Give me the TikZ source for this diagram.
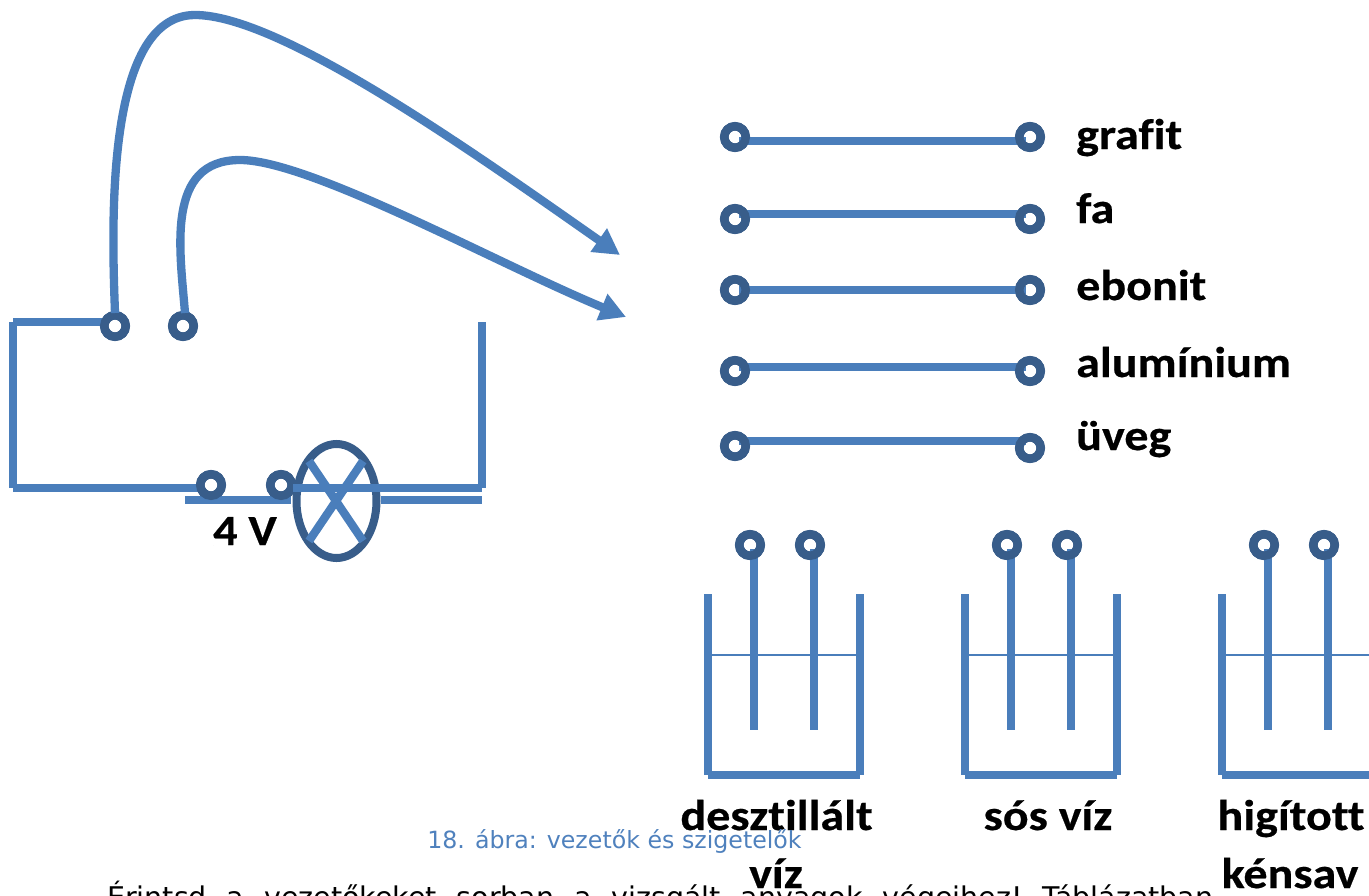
\documentclass[tikz,border=0pt]{standalone}
\usepackage{fontspec}
\setmainfont[FakeStretch=1.118,Ligatures=NoCommon,BoldFeatures={FakeBold=0.5}]{Carlito}
\newfontfamily\capfont{DejaVu Sans}
\usetikzlibrary{arrows.meta,shapes.geometric}
\definecolor{wirec}{HTML}{4A7EBB}
\definecolor{ringc}{HTML}{385D8A}
\definecolor{capc}{HTML}{4F81BD}
\tikzset{
 wire/.style={draw=wirec,line width=8.3pt},
 thin wire/.style={draw=wirec,line width=2pt},
 ring/.style={circle,draw=ringc,line width=8.5pt,minimum size=21.5pt,inner sep=0pt,outer sep=0pt},
 lamp/.style={ellipse,draw=ringc,line width=8pt,minimum width=80pt,minimum height=114pt,inner sep=0pt},
 lbl/.style={font=\bfseries\fontsize{43pt}{43pt}\selectfont,text=black,inner sep=0pt,anchor=base},
 curve/.style={draw=wirec,line width=8.3pt,-{Triangle[length=26pt,width=27pt,fill=wirec]}},
}
\begin{document}
\begin{tikzpicture}[x=1pt,y=-1pt]
\useasboundingbox (0,0) rectangle (1369,895);
\clip (0,0) rectangle (1369,895);
% circuit
\coordinate (cTL) at (13,322);
\coordinate (cBL) at (13,488);
\coordinate (cTR) at (482,322);
\coordinate (cBR) at (482,488);
\coordinate (cBR2) at (482,500);
\coordinate (cM) at (185,500);
\coordinate (tip1) at (620,255);
\coordinate (tip2) at (626,317);
\node[lamp] (L) at (336.5,501) {};
\path (115,326) node[ring] (a) {} (183,326) node[ring] (b) {} (211,485) node[ring] (c) {} (281,485) node[ring] (d) {};
\draw[wire] (cTL) -- (cBL);
\draw[wire] (cTL) -- ([xshift=-11pt,yshift=4pt]a.center);
\draw[wire] (cBL) -- ([xshift=-9pt,yshift=-3pt]c.center);
\draw[wire] (cM) -- ([xshift=10pt,yshift=-15pt]d.center);
\draw[wire] ([xshift=44pt]L.center |- cBR2) -- (cBR2);
\draw[wire] (cTR) -- (cBR);
\node[ring] at (a) {};
\node[ring] at (b) {};
\node[ring] at (c) {};
\node[ring] at (d) {};
\draw[wire] ([xshift=12pt,yshift=-3pt]d.center) -- (cBR);
\draw[wire] (309,461) -- (363,541);
\draw[wire] (363,461) -- (309,541);
\draw[curve] ([yshift=13pt]a.center) .. controls (112,230) and (104,15) .. (195,15) .. controls (280,15) and (470,150) .. (tip1);
\draw[curve] ([xshift=2pt,yshift=13pt]b.center) .. controls (180,250) and (165,160) .. (240,160) .. controls (310,160) and (500,265) .. (tip2);
\node[lbl] (v) at (245,545) {4 V};
% material rows
\foreach \n/\yl/\yr/\yw/\t/\ty in {r1/137/137/141/grafit/149,r2/219/219/214/fa/223,r3/290/290/290/ebonit/300,r4/371/371/367/alumínium/377,r5/446/448/441/üveg/450}{
 \node[ring] (\n l) at (735,\yl) {};
 \node[ring] (\n r) at (1030,\yr) {};
 \coordinate (\n w) at (0,\yw);
 \draw[wire] ([xshift=4pt]\n l.center |- \n w) -- ([xshift=-4pt]\n r.center |- \n w);
 \node[ring] at (\n l) {};
 \node[ring] at (\n r) {};
 \node[lbl,anchor=base west] (\n t) at (1076,\ty) {\t};
}
% beakers
\foreach \n/\dx in {p/0,q/257,s/514}{
 \begin{scope}[xshift=\dx pt]
 \node[ring] (\n a) at (750,545) {};
 \node[ring] (\n b) at (810,545) {};
 \coordinate (\n TL) at (708,594);
 \coordinate (\n BL) at (708,775);
 \coordinate (\n TR) at (860,594);
 \coordinate (\n BR) at (860,775);
 \draw[wire] (\n TL) -- (\n BL);
 \draw[wire] (\n TR) -- (\n BR);
 \draw[wire] (\n BL) -- (\n BR);
 \draw[thin wire] (708,655) -- (860,655);
 \draw[wire] ([xshift=4pt,yshift=-4pt]\n a.center) -- ++(0,181);
 \draw[wire] ([xshift=4pt,yshift=-4pt]\n b.center) -- ++(0,181);
 \node[ring] at (\n a) {};
 \node[ring] at (\n b) {};
 \end{scope}
}
\node[lbl] (d1) at (776.5,830) {desztillált};
\node[lbl] (d2) at (776,888) {víz};
\node[lbl] (d3) at (1048,830) {sós víz};
\node[lbl] (d4) at (1291,830) {higított};
\node[lbl] (d5) at (1290,888) {kénsav};
\node[font=\capfont\fontsize{23.7pt}{24pt}\selectfont,text=capc,inner sep=0pt,anchor=base] (cap) at (614.5,848) {18. ábra: vezetők és szigetelők};
\node[font=\capfont\fontsize{28.5pt}{29pt}\selectfont,text=black,inner sep=0pt,anchor=base west] (body) at (107,907.5) {\hbox to 1106pt{Érintsd\hfil a\hfil vezetőkeket\hfil sorban\hfil a\hfil vizsgált\hfil anyagok\hfil végeihez!\hfil Táblázatban}};
\end{tikzpicture}
\end{document}
